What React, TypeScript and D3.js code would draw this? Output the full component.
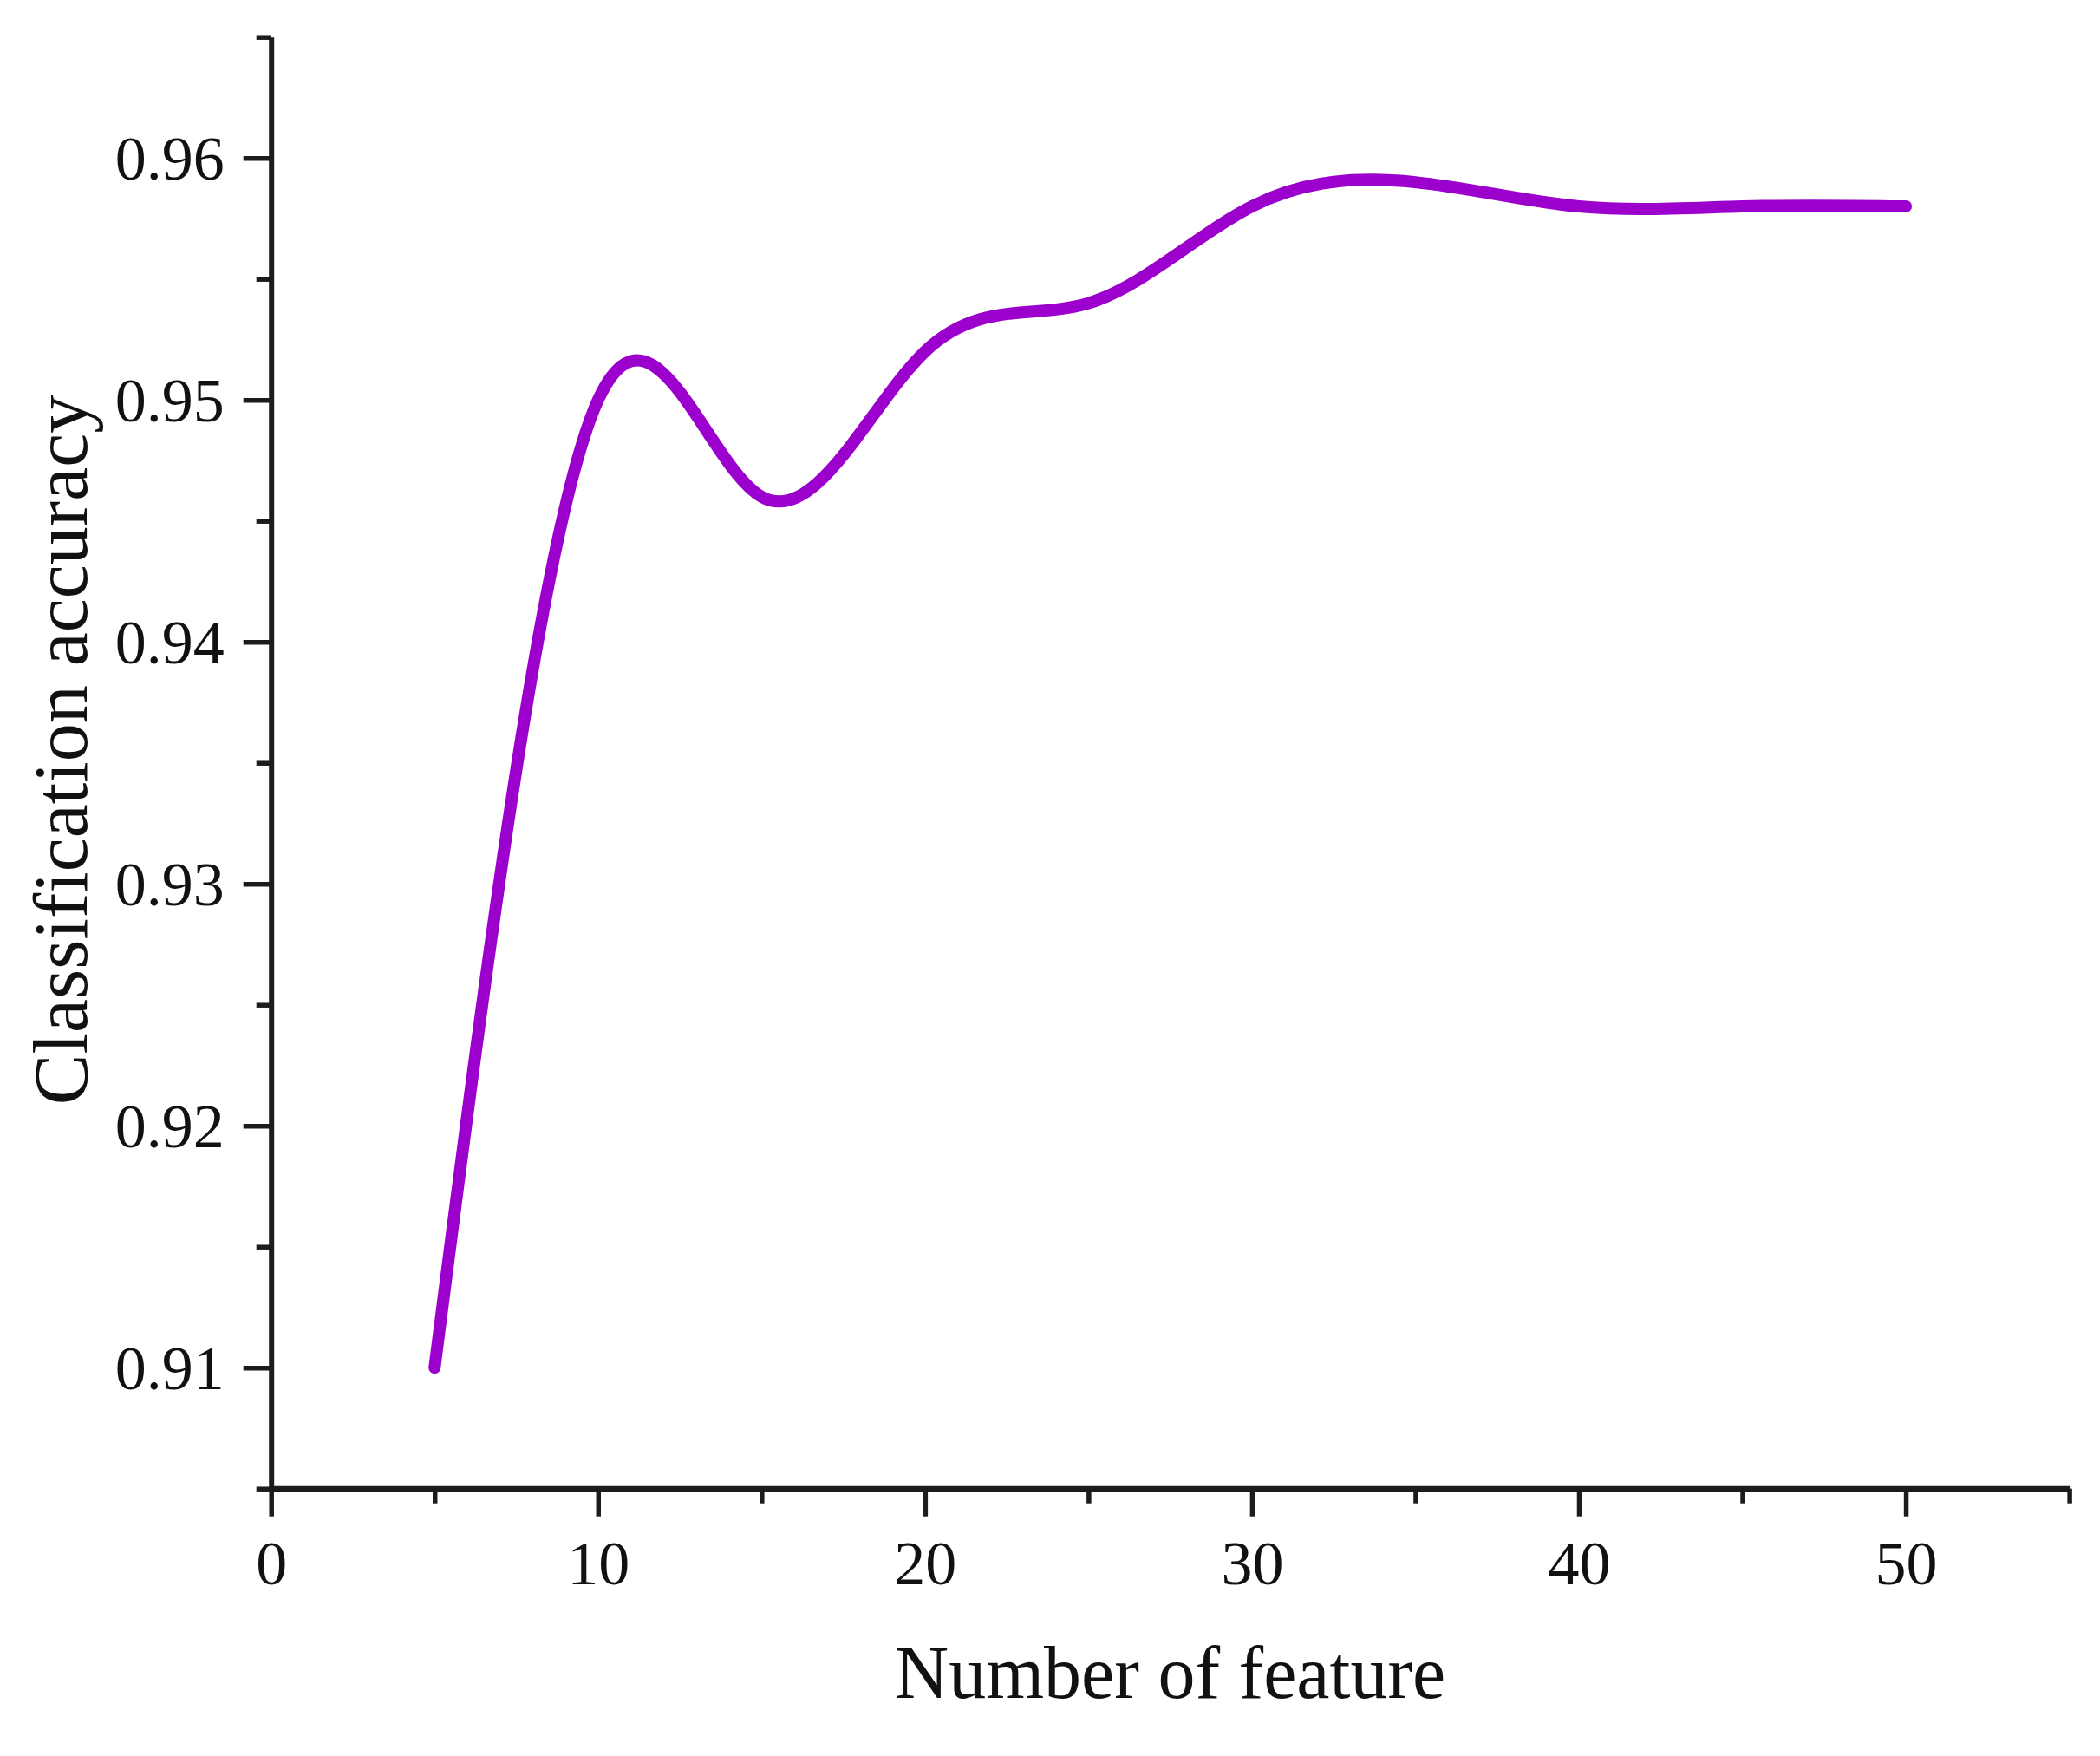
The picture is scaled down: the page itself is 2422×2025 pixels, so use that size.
import React, { useEffect, useRef } from "react";
import * as d3 from "d3";

const featureCounts = [5, 10, 15, 20, 25, 30, 35, 40, 45, 50];
const accuracy = [0.910, 0.950, 0.946, 0.952, 0.954, 0.958, 0.959, 0.958, 0.958, 0.958];
const xMajorTicks = [0, 10, 20, 30, 40, 50];
const xMinorTicks = [5, 15, 25, 35, 45, 55];
const yMajorTicks = [0.91, 0.92, 0.93, 0.94, 0.95, 0.96];
const yMinorTicks = [0.905, 0.915, 0.925, 0.935, 0.945, 0.955, 0.965];
const xTitle = "Number of feature";
const yTitle = "Classification accuracy";

const W = 2422;
const H = 2025;
const FONT = "'Liberation Serif', 'Times New Roman', serif";
const AXIS_COLOR = "#1c1c1c";
const LINE_COLOR = "#9b00cc";

export default function App() {
  const ref = useRef<SVGSVGElement | null>(null);

  useEffect(() => {
    const svg = d3.select(ref.current);
    svg.selectAll("*").remove();

    const x = d3.scaleLinear().domain([0, 55]).range([312.7, 2386.6]);
    const y = d3.scaleLinear().domain([0.905, 0.965]).range([1716.7, 42.7]);

    const styleAxis = (g: any, sw: number) => {
      g.selectAll("path.domain").attr("stroke", AXIS_COLOR).attr("stroke-width", sw);
      g.selectAll(".tick line").attr("stroke", AXIS_COLOR).attr("stroke-width", 5.5);
      g.selectAll(".tick text")
        .attr("fill", "#111")
        .attr("font-family", FONT)
        .attr("font-size", 72);
      g.attr("font-family", null).attr("font-size", null);
    };

    // Y axis minor
    const yMinor = svg.append("g").attr("transform", `translate(${x(0)},0)`);
    yMinor.call(
      d3.axisLeft(y).tickValues(yMinorTicks).tickSize(17).tickSizeOuter(0).tickFormat(() => "")
    );
    styleAxis(yMinor, 5.5);
    yMinor.select("path.domain").remove();

    // X axis minor
    const xMinor = svg.append("g").attr("transform", `translate(0,${y(0.905)})`);
    xMinor.call(
      d3.axisBottom(x).tickValues(xMinorTicks).tickSize(17).tickSizeOuter(0).tickFormat(() => "")
    );
    styleAxis(xMinor, 5.5);
    xMinor.select("path.domain").remove();

    // Y axis major
    const yAxis = svg.append("g").attr("transform", `translate(${x(0)},0)`);
    yAxis.call(
      d3
        .axisLeft(y)
        .tickValues(yMajorTicks)
        .tickSize(32)
        .tickSizeOuter(0)
        .tickPadding(22)
        .tickFormat(d3.format(".2f"))
    );
    styleAxis(yAxis, 6);
    yAxis.selectAll(".tick text").attr("dy", "0.34em");

    // X axis major
    const xAxis = svg.append("g").attr("transform", `translate(0,${y(0.905)})`);
    xAxis.call(
      d3
        .axisBottom(x)
        .tickValues(xMajorTicks)
        .tickSize(32)
        .tickSizeOuter(0)
        .tickPadding(27)
        .tickFormat(d3.format("d"))
    );
    styleAxis(xAxis, 7);

    // Curve
    const line = d3
      .line<number>()
      .x((_, i) => x(featureCounts[i]))
      .y((d) => y(d))
      .curve(d3.curveNatural);

    svg
      .append("path")
      .datum(accuracy)
      .attr("d", line)
      .attr("fill", "none")
      .attr("stroke", LINE_COLOR)
      .attr("stroke-width", 14)
      .attr("stroke-linecap", "round")
      .attr("stroke-linejoin", "round");

    // Titles
    svg
      .append("text")
      .attr("x", (x(0) + x(55)) / 2)
      .attr("y", 1958)
      .attr("text-anchor", "middle")
      .attr("font-family", FONT)
      .attr("font-size", 86)
      .attr("fill", "#111")
      .text(xTitle);

    svg
      .append("text")
      .attr("transform", `translate(100,865) rotate(-90)`)
      .attr("text-anchor", "middle")
      .attr("font-family", FONT)
      .attr("font-size", 88)
      .attr("fill", "#111")
      .text(yTitle);
  }, []);

  return (
    <svg
      ref={ref}
      width={W}
      height={H}
      viewBox={`0 0 ${W} ${H}`}
      style={{ position: "absolute", left: 0, top: 0, background: "#fff" }}
    />
  );
}
